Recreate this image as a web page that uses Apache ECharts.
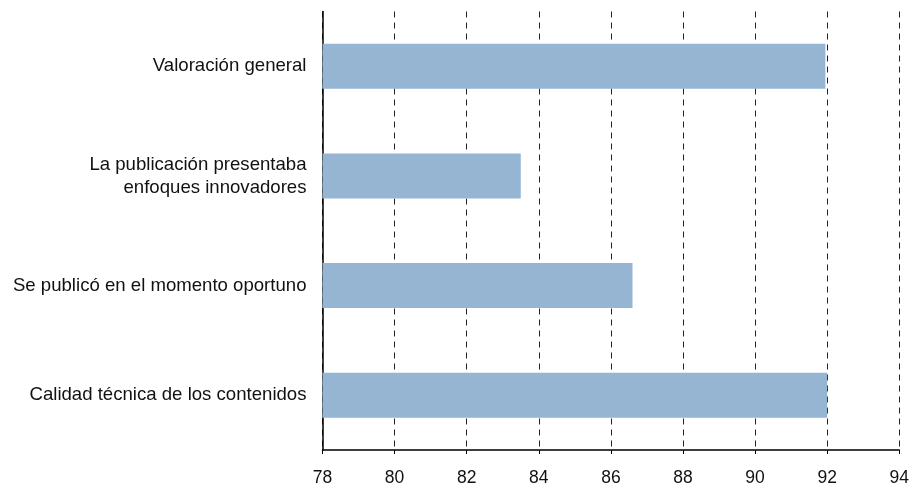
<!DOCTYPE html>
<html>
<head>
<meta charset="utf-8">
<script src="https://cdn.jsdelivr.net/npm/echarts@6/dist/echarts.min.js"></script>
<style>
  html, body { margin: 0; padding: 0; background: #fff; }
  #main { width: 912px; height: 487px; }
</style>
</head>
<body>
<div id="main"></div>
<script>
// categories listed bottom to top (category axis starts at the bottom)
var categories = [
  "Calidad técnica de los contenidos",
  "Se publicó en el momento oportuno",
  "La publicación presentaba\nenfoques innovadores",
  "Valoración general"
];
var values = [92.0, 86.6, 83.5, 91.95];
var xMin = 78;
var xMax = 94;
var xStep = 2;

var myChart = echarts.init(document.getElementById("main"));
var option = {
  animation: false,
  textStyle: { fontFamily: "Liberation Sans, Arial, sans-serif" },
  grid: { left: 322.5, right: 6.5, top: 11.5, bottom: 35 },
  xAxis: {
    type: "value",
    min: xMin,
    max: xMax,
    interval: xStep,
    axisLine: { show: true, lineStyle: { color: "#000", width: 1.5 } },
    axisTick: { show: true, length: 4, lineStyle: { color: "#000" } },
    axisLabel: { color: "#111", fontSize: 17.5, margin: 19 },
    splitLine: {
      show: true,
      lineStyle: { color: "#222", type: [6, 5], width: 1 }
    }
  },
  yAxis: {
    type: "category",
    data: categories,
    axisLine: { show: true, lineStyle: { color: "#000", width: 1.5 } },
    axisTick: { show: false },
    axisLabel: {
      color: "#111",
      fontSize: 18.6,
      margin: 16,
      lineHeight: 23,
      align: "right"
    },
    splitLine: { show: false }
  },
  series: [
    {
      type: "bar",
      data: values,
      barWidth: "41%",
      itemStyle: { color: "#95b5d3" }
    }
  ]
};
myChart.setOption(option);
</script>
</body>
</html>
